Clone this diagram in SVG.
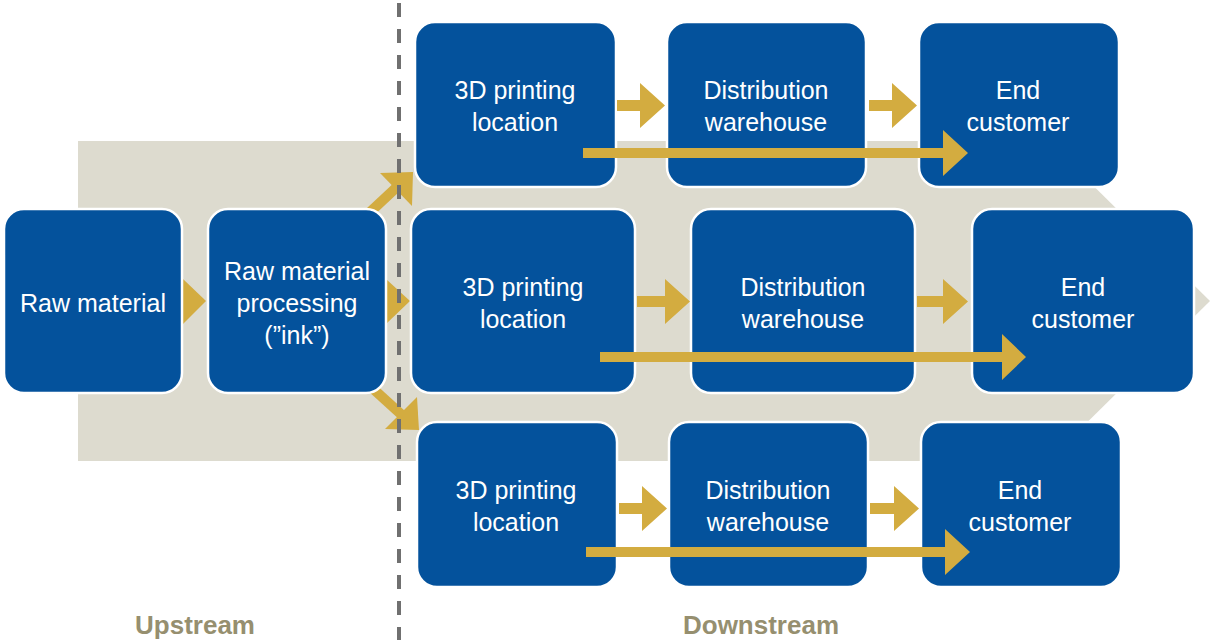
<svg xmlns="http://www.w3.org/2000/svg" width="1210" height="640" viewBox="0 0 1210 640">
<style>
.box{fill:#04529C;stroke:#ffffff;stroke-width:2.5}
.t{font-family:"Liberation Sans",Arial,sans-serif;font-size:25px;fill:#ffffff;text-anchor:middle}
.arr{fill:#D3AC40}
.lbl{font-family:"Liberation Sans",Arial,sans-serif;font-size:26px;font-weight:bold;fill:#968F6F;text-anchor:middle}
</style>
<rect width="1210" height="640" fill="#ffffff"/>
<polygon points="78,141 1048,141 1210,301 1048,461 78,461" fill="#DDDBCF"/>
<g id="connectors">
<polygon class="arr" points="183,279 206,301 183,324"/>
<polygon class="arr" points="386,279 410,301 386,324"/>
<line x1="368" y1="214" x2="398" y2="186" stroke="#D3AC40" stroke-width="10"/>
<polygon class="arr" points="380,173 413,172 412,206"/>
<line x1="370" y1="386" x2="403" y2="416" stroke="#D3AC40" stroke-width="10"/>
<polygon class="arr" points="385,429 419,430 417,397"/>
</g>
<g id="n-raw"><rect class="box" x="4" y="209" width="178" height="184" rx="20"/><text class="t" x="93" y="312">Raw material</text></g>
<g id="n-proc"><rect class="box" x="208" y="209" width="178" height="184" rx="20"/><text class="t" x="297" y="280">Raw material</text><text class="t" x="297" y="312">processing</text><text class="t" x="297" y="344">(”ink”)</text></g>
<g id="n-3d-top"><rect class="box" x="415" y="22" width="201" height="165" rx="20"/><text class="t" x="515" y="99">3D printing</text><text class="t" x="515" y="131">location</text></g>
<g id="n-dw-top"><rect class="box" x="667" y="22" width="199" height="165" rx="20"/><text class="t" x="766" y="99">Distribution</text><text class="t" x="766" y="131">warehouse</text></g>
<g id="n-ec-top"><rect class="box" x="919" y="22" width="200" height="165" rx="20"/><text class="t" x="1018" y="99">End</text><text class="t" x="1018" y="131">customer</text></g>
<g id="n-3d-mid"><rect class="box" x="411" y="209" width="224" height="184" rx="20"/><text class="t" x="523" y="296">3D printing</text><text class="t" x="523" y="328">location</text></g>
<g id="n-dw-mid"><rect class="box" x="691" y="209" width="224" height="184" rx="20"/><text class="t" x="803" y="296">Distribution</text><text class="t" x="803" y="328">warehouse</text></g>
<g id="n-ec-mid"><rect class="box" x="972" y="209" width="222" height="184" rx="20"/><text class="t" x="1083" y="296">End</text><text class="t" x="1083" y="328">customer</text></g>
<g id="n-3d-bot"><rect class="box" x="417" y="422" width="200" height="165" rx="20"/><text class="t" x="516" y="499">3D printing</text><text class="t" x="516" y="531">location</text></g>
<g id="n-dw-bot"><rect class="box" x="669" y="422" width="199" height="165" rx="20"/><text class="t" x="768" y="499">Distribution</text><text class="t" x="768" y="531">warehouse</text></g>
<g id="n-ec-bot"><rect class="box" x="921" y="422" width="200" height="165" rx="20"/><text class="t" x="1020" y="499">End</text><text class="t" x="1020" y="531">customer</text></g>
<g id="connectors2">
<polygon class="arr" points="617,100 640,100 640,83 665,105.5 640,128 640,111 617,111"/>
<polygon class="arr" points="869,100 892,100 892,83 917,105.5 892,128 892,111 869,111"/>
<polygon class="arr" points="583,148 943,148 943,130 968,153 943,176 943,158 583,158"/>
<polygon class="arr" points="637,296 665,296 665,279 690,301.5 665,324 665,307 637,307"/>
<polygon class="arr" points="917,296 943,296 943,279 968,301.5 943,324 943,307 917,307"/>
<polygon class="arr" points="600,352 1002,352 1002,334 1026,357 1002,380 1002,362 600,362"/>
<polygon class="arr" points="619,503 642,503 642,486 667,508.5 642,531 642,514 619,514"/>
<polygon class="arr" points="870,503 894,503 894,486 919,508.5 894,531 894,514 870,514"/>
<polygon class="arr" points="586,547 945,547 945,529 970,552 945,575 945,557 586,557"/>
</g>
<line x1="399" y1="0" x2="399" y2="640" stroke="#707070" stroke-width="4" stroke-dasharray="14,12" stroke-dashoffset="-3"/>
<text class="lbl" x="195" y="634">Upstream</text>
<text class="lbl" x="761" y="634">Downstream</text>
</svg>
